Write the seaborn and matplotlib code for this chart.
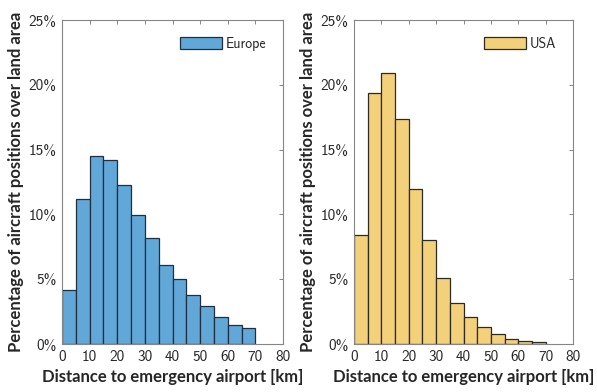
"""
Histogram of distance to nearest emergency airport, Europe vs USA.
Output: out.png
"""

import matplotlib
matplotlib.use("Agg")
import matplotlib.pyplot as plt
from matplotlib.ticker import FuncFormatter, MultipleLocator
import pandas as pd
import seaborn as sns

# bin edges in km, 5 km wide
bin_edges = [0, 5, 10, 15, 20, 25, 30, 35, 40, 45, 50, 55, 60, 65, 70]
bin_mids = [2.5, 7.5, 12.5, 17.5, 22.5, 27.5, 32.5, 37.5, 42.5, 47.5,
            52.5, 57.5, 62.5, 67.5]

# percentage of aircraft positions per bin
europe_pct = [4.2, 11.2, 14.5, 14.2, 12.3, 9.95, 8.2, 6.1, 5.0, 3.75,
              2.95, 2.05, 1.5, 1.2]
usa_pct = [8.4, 19.35, 20.95, 17.35, 11.95, 8.0, 5.1, 3.2, 2.1, 1.35,
           0.8, 0.42, 0.24, 0.16]

x_ticks = [0, 10, 20, 30, 40, 50, 60, 70, 80]

sns.set_theme(style="white")
plt.rcParams["font.family"] = ["cmss10", "DejaVu Sans"]
plt.rcParams["axes.unicode_minus"] = False

AX_GREY = "#858585"
LABEL_FONT = dict(family=["Lato", "DejaVu Sans"], weight="bold", size=12,
                  color="#262626")


def _draw_panel(ax, values, face, edge, label):
    df = pd.DataFrame({"dist": bin_mids, "pct": values})
    sns.histplot(data=df, x="dist", weights="pct", bins=bin_edges, ax=ax,
                 color=face, edgecolor=edge, linewidth=0.9, alpha=1.0,
                 label=label)
    ax.set_xlim(0, 80)
    ax.set_ylim(0, 25)
    ax.set_xticks(x_ticks)
    ax.yaxis.set_major_locator(MultipleLocator(5))
    ax.yaxis.set_major_formatter(FuncFormatter(lambda v, _: f"{v:.0f}%"))
    ax.tick_params(direction="in", length=3, width=0.7, color=AX_GREY,
                   top=True, right=True, labelsize=11,
                   labelcolor="#262626", pad=4)
    for sp in ax.spines.values():
        sp.set_color(AX_GREY)
        sp.set_linewidth(0.8)
    ax.set_xlabel("Distance to emergency airport [km]", labelpad=4,
                  **LABEL_FONT)
    ax.set_ylabel("Percentage of aircraft positions over land area",
                  labelpad=3, **LABEL_FONT)
    ax.legend(loc="upper right", frameon=False, fontsize=10,
              handlelength=3.0, handleheight=1.0, handletextpad=0.3,
              borderaxespad=0.8)


fig = plt.figure(figsize=(5.97, 3.92), dpi=100)
ax_eu = fig.add_axes([0.1039, 0.1224, 0.3702, 0.8265])
ax_us = fig.add_axes([0.5930, 0.1224, 0.3668, 0.8265])

_draw_panel(ax_eu, europe_pct, "#61A8D8", "#1F2F3D", "Europe")
_draw_panel(ax_us, usa_pct, "#F3D07A", "#2E2A22", "USA")

fig.savefig("out.png", dpi=100)
plt.close(fig)
